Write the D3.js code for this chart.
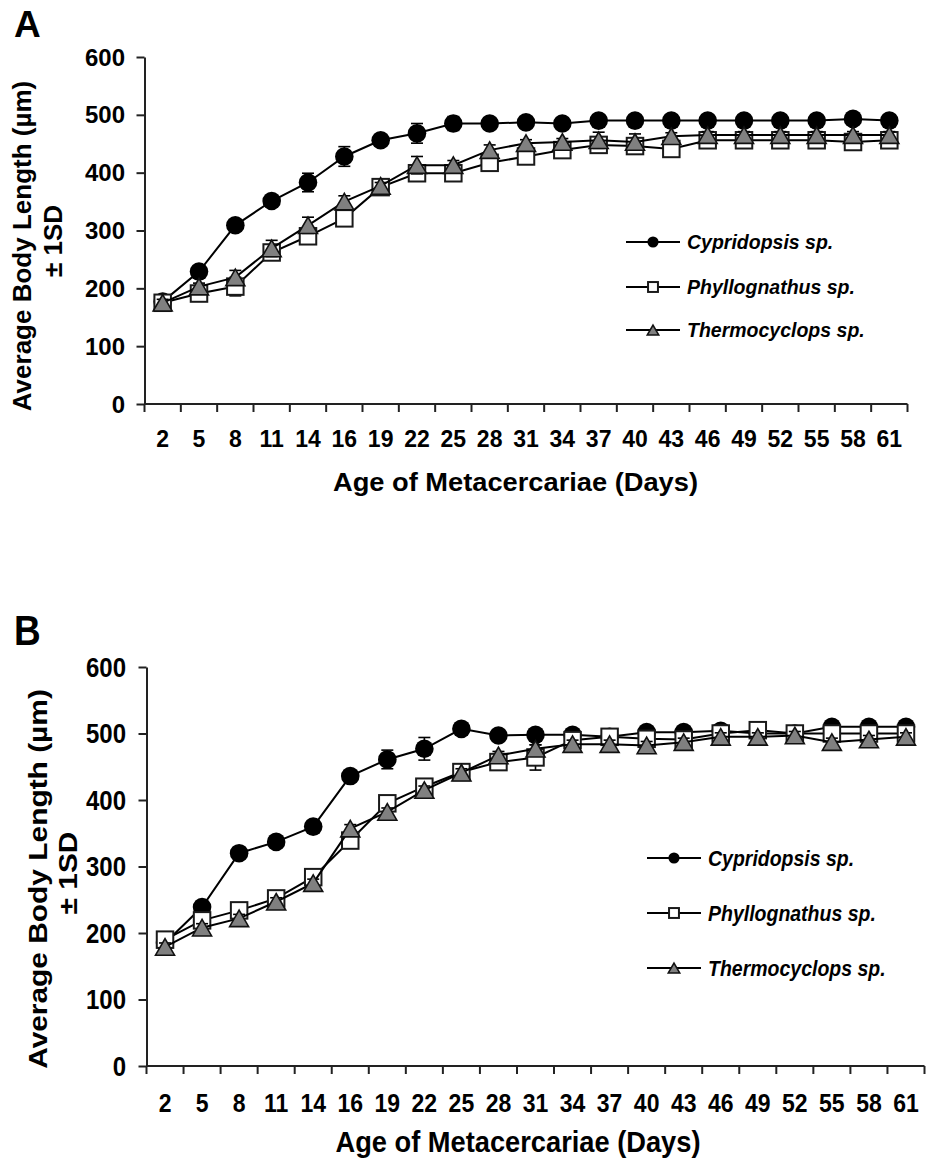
<!DOCTYPE html>
<html><head><meta charset="utf-8">
<script src="https://cdn.jsdelivr.net/npm/d3@7"></script>
<style>
body{margin:0;background:#fff}
text{font-family:"Liberation Sans",Arial,Helvetica,sans-serif;font-weight:bold;fill:#000}
</style>
</head><body>
<svg id="chart" width="928" height="1164"></svg>
<script>
// ---------- data ----------
const days = [2,5,8,11,14,16,19,22,25,28,31,34,37,40,43,46,49,52,55,58,61];
const yTicks = [0,100,200,300,400,500,600];
const seriesNames = ["Cypridopsis sp.","Phyllognathus sp.","Thermocyclops sp."];
const yTitle1 = "Average Body Length (µm)";
const yTitle2 = "± 1SD";
const xTitle = "Age of Metacercariae (Days)";

// Panel A
const cypA = [177,229,309,351,383,428,456,468,485,485,487,485,490,490,490,490,490,490,490,493,490];
const sdCypA = [6,8,6,6,16,17,6,17,12,6,5,8,5,5,5,5,5,5,5,5,5];
const phyA = [175,191,203,262,290,321,375,399,399,417,428,439,448,446,441,456,456,456,456,453,456];
const sdPhyA = [6,8,16,13,10,8,8,8,8,8,8,8,8,8,8,8,8,8,8,8,8];
const theA = [175,203,219,269,309,350,377,413,413,439,451,453,456,453,463,465,465,465,465,465,465];
const sdTheA = [6,6,12,14,14,10,6,15,8,9,6,6,14,14,6,6,6,6,6,6,6];

// Panel B
const cypB = [185,239,320,337,360,436,461,477,507,497,498,498,495,502,502,504,500,500,510,510,510];
const sdCypB = [6,6,6,6,6,8,14,17,8,6,6,6,6,6,6,6,6,6,6,6,6];
const phyB = [190,219,234,252,284,339,395,420,442,457,464,490,495,492,491,500,505,500,500,500,500];
const sdPhyB = [6,6,6,6,6,6,6,6,6,6,19,6,6,6,6,6,6,6,6,6,6];
const theB = [179,208,222,247,275,357,382,415,441,467,477,484,484,482,487,495,495,497,487,491,495];
const sdTheB = [6,6,6,6,6,6,6,6,6,6,6,6,6,6,6,6,6,6,6,6,6];

// ---------- drawing ----------
const svg = d3.select("#chart");

function txt(g, x, y, s, o) {
  o = o || {};
  let tr = `translate(${x},${y}) scale(1,${o.ts || 1})` + (o.rot ? ` rotate(${o.rot})` : "");
  const t = g.append("text").attr("transform", tr).text(s)
    .attr("font-size", o.size || 24)
    .attr("text-anchor", o.anchor || "start");
  if (o.italic) t.attr("font-style", "italic");
  if (o.len) t.attr("textLength", o.len).attr("lengthAdjust", "spacingAndGlyphs");
  return t;
}

function marker(g, type, cx, cy, k) {
  k = k || 1;
  if (type === 0) {
    g.append("circle").attr("cx", cx).attr("cy", cy).attr("r", 9.3 * k).attr("fill", "#000");
  } else if (type === 1) {
    const s = 16.5 * k;
    g.append("rect").attr("x", cx - s / 2).attr("y", cy - s / 2).attr("width", s).attr("height", s)
      .attr("fill", "#fff").attr("stroke", "#1a1a1a").attr("stroke-width", 2);
  } else {
    const w = 19 * k, h = 16.5 * k;
    g.append("path").attr("d", `M${cx},${cy - h / 2}L${cx + w / 2},${cy + h / 2}L${cx - w / 2},${cy + h / 2}Z`)
      .attr("fill", "#808080").attr("stroke", "#111").attr("stroke-width", 1.6).attr("stroke-linejoin", "miter");
  }
}

function drawPanel(cfg) {
  const g = svg.append("g");
  const ts = cfg.ts;
  const x = d3.scaleBand().domain(days).range([cfg.x0, cfg.x1]);
  const y = d3.scaleLinear().domain([0, 600]).range([cfg.y0, cfg.y1]);
  const cx = d => x(d) + x.bandwidth() / 2;

  // y axis (ticks from d3 axis)
  const ya = g.append("g").attr("transform", `translate(${cfg.x0},0)`)
    .call(d3.axisLeft(y).tickValues(yTicks).tickSize(8).tickSizeOuter(0).tickFormat(""));
  ya.selectAll("path,line").attr("stroke", "#222").attr("stroke-width", 2);
  yTicks.forEach(v => txt(g, cfg.yLabX, y(v) + cfg.yLabDy, String(v), {anchor: "end", size: 24, ts}));

  // x axis line + boundary ticks
  const xa = g.append("g");
  xa.append("line").attr("x1", cfg.x0).attr("x2", cfg.x1).attr("y1", cfg.y0).attr("y2", cfg.y0)
    .attr("stroke", "#222").attr("stroke-width", 2);
  const bounds = days.map(d => x(d)).concat([x(days[days.length - 1]) + x.bandwidth()]);
  xa.selectAll("line.tk").data(bounds).enter().append("line").attr("class", "tk")
    .attr("x1", d => d).attr("x2", d => d).attr("y1", cfg.y0).attr("y2", cfg.y0 + 8)
    .attr("stroke", "#222").attr("stroke-width", 2);
  days.forEach(d => txt(g, cx(d), cfg.xLabY, String(d), {anchor: "middle", size: 23, ts}));

  // titles
  txt(g, cfg.xTitleX, cfg.xTitleY, xTitle, {anchor: "middle", size: 25, ts, len: 365});
  txt(g, cfg.yT1x, cfg.yTc, yTitle1, {anchor: "middle", size: 26, rot: -90, ts});
  txt(g, cfg.yT2x, cfg.yTc2, yTitle2, {anchor: "middle", size: 26, rot: -90, ts});
  txt(g, cfg.letX, cfg.letY, cfg.letter, {size: 37, ts});

  // series
  const series = [cfg.data[0], cfg.data[1], cfg.data[2]];
  const line = d3.line().x((v, i) => cx(days[i])).y(v => y(v));
  series.forEach((s, si) => {
    const sg = g.append("g");
    sg.append("path").attr("d", line(s.v)).attr("fill", "none").attr("stroke", "#000").attr("stroke-width", 2);
    s.v.forEach((v, i) => {
      const px = cx(days[i]), sd = s.sd[i];
      sg.append("line").attr("x1", px).attr("x2", px).attr("y1", y(v - sd)).attr("y2", y(v + sd))
        .attr("stroke", "#000").attr("stroke-width", 1.6);
      [v - sd, v + sd].forEach(e => sg.append("line").attr("x1", px - 6).attr("x2", px + 6)
        .attr("y1", y(e)).attr("y2", y(e)).attr("stroke", "#000").attr("stroke-width", 1.6));
    });
    s.v.forEach((v, i) => marker(sg, si, cx(days[i]), y(v)));
  });

  // legend
  const lg = g.append("g");
  seriesNames.forEach((n, i) => {
    const ry = cfg.legY[i];
    lg.append("line").attr("x1", cfg.legX0).attr("x2", cfg.legX0 + 54).attr("y1", ry).attr("y2", ry)
      .attr("stroke", "#000").attr("stroke-width", 2);
    marker(lg, i, cfg.legX0 + 27, ry, 0.6);
    txt(lg, cfg.legX0 + 61, ry + 7 * ts, n, {size: 19.5, italic: true, ts});
  });
}

drawPanel({
  letter: "A", letX: 14, letY: 37, ts: 1,
  x0: 144.5, x1: 907.5, y0: 404, y1: 57,
  yLabX: 125, yLabDy: 8.5, xLabY: 447,
  xTitleX: 515.5, xTitleY: 491,
  yT1x: 31, yT2x: 62, yTc: 246, yTc2: 241,
  legX0: 626, legY: [242, 287, 330],
  data: [{v: cypA, sd: sdCypA}, {v: phyA, sd: sdPhyA}, {v: theA, sd: sdTheA}]
});

drawPanel({
  letter: "B", letX: 14, letY: 645, ts: 1.15,
  x0: 146.5, x1: 924.5, y0: 1066, y1: 667,
  yLabX: 126, yLabDy: 9.5, xLabY: 1112,
  xTitleX: 518, xTitleY: 1152,
  yT1x: 47, yT2x: 77, yTc: 879, yTc2: 873,
  legX0: 647, legY: [858, 913, 968],
  data: [{v: cypB, sd: sdCypB}, {v: phyB, sd: sdPhyB}, {v: theB, sd: sdTheB}]
});
</script>
</body></html>
